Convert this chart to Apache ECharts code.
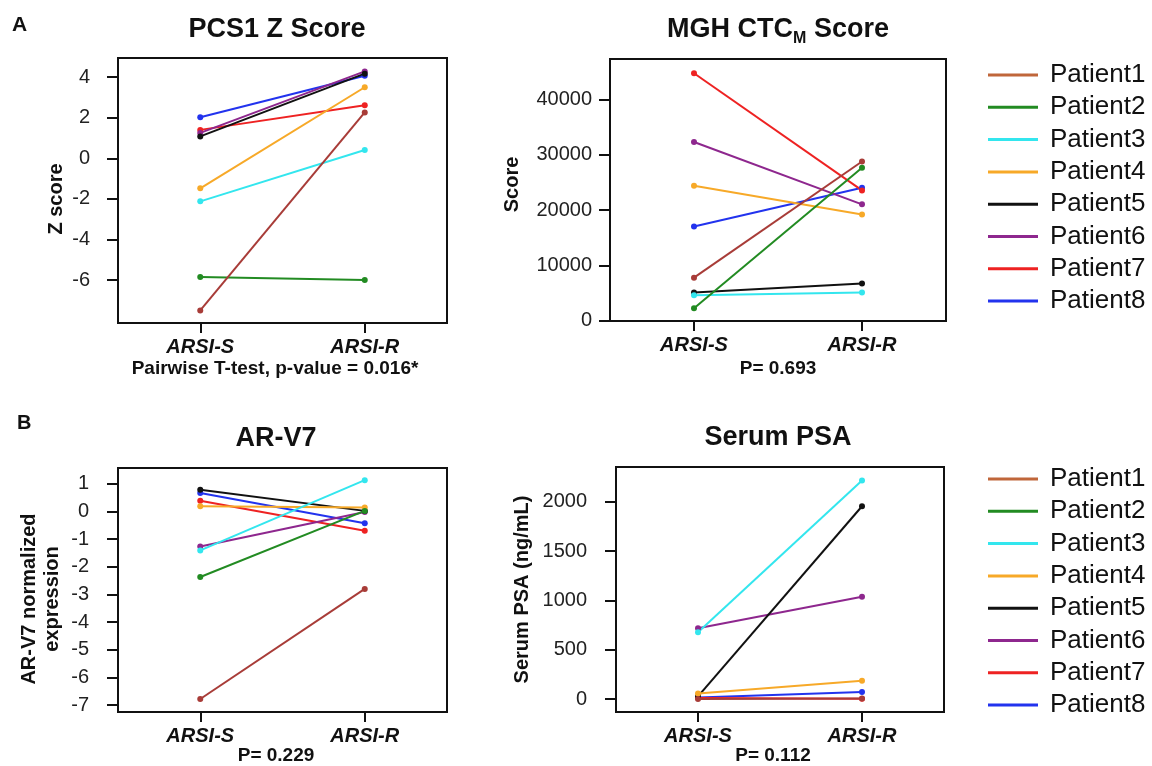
<!DOCTYPE html>
<html>
<head>
<meta charset="utf-8">
<script src="https://cdn.jsdelivr.net/npm/echarts@6/dist/echarts.min.js"></script>
<style>html,body{margin:0;padding:0;background:#fff}#c{width:1152px;height:766px}</style>
</head>
<body>
<div id="c"></div>
<script>
// ---- data ----
const categories = ['ARSI-S', 'ARSI-R'];
const patients = ['Patient1','Patient2','Patient3','Patient4','Patient5','Patient6','Patient7','Patient8'];
const patientColors = ['#a83c38','#228b22','#33e6ee','#f7a928','#111111','#8e278e','#ee2222','#2233ee'];

const pcs1S = [-7.49, -5.85, -2.12, -1.48, 1.08, 1.25, 1.40, 2.02];
const pcs1R = [ 2.26, -5.99,  0.41,  3.50, 4.17, 4.28, 2.61, 4.07];
const pcs1Ticks = [-6, -4, -2, 0, 2, 4];

const mghS = [ 7760,  2230, 4570, 24420, 5050, 32360, 44810, 17020];
const mghR = [28810, 27670, 5050, 19190, 6680, 21050, 23580, 24060];
const mghTicks = [0, 10000, 20000, 30000, 40000];

const arS = [-6.78, -2.37, -1.41, 0.19, 0.78, -1.27,  0.39,  0.67];
const arR = [-2.80,  0.02,  1.13, 0.14, 0.02, -0.02, -0.70, -0.43];
const arTicks = [-7, -6, -5, -4, -3, -2, -1, 0, 1];

const psaS = [2, null,  678,  57,   27,  718, 12, 17];
const psaR = [5, null, 2216, 185, 1956, 1039,  3, 71];
const psaTicks = [0, 500, 1000, 1500, 2000];

// ---- chart ----
const FONT = "'Liberation Sans', Arial, Helvetica, sans-serif";
const panels = [
  {S: pcs1S, R: pcs1R, ticks: pcs1Ticks, min: -8.11, max: 4.94, margin: 28,
   name: 'Z score', nameGap: 36, namePad: [0, 17, 0, 0],
   grid: {left: 118, top: 58, width: 329, height: 265}},
  {S: mghS, R: mghR, ticks: mghTicks, min: -100, max: 47400, margin: 18,
   name: 'Score', nameGap: 86, namePad: [0, 0, 0, 11],
   grid: {left: 610, top: 59, width: 336, height: 262}},
  {S: arS, R: arR, ticks: arTicks, min: -7.25, max: 1.57, margin: 29,
   name: 'AR-V7 normalized\nexpression', nameGap: 54, namePad: [0, 18, 0, 0],
   grid: {left: 118, top: 468, width: 329, height: 244}},
  {S: psaS, R: psaR, ticks: psaTicks, min: -131, max: 2354, margin: 29,
   name: 'Serum PSA (ng/mL)', nameGap: 82, namePad: [0, 0, 0, 0],
   grid: {left: 616, top: 467, width: 328, height: 245}}
];

const grid = [], xAxis = [], yAxis = [], series = [];
panels.forEach((p, gi) => {
  grid.push(Object.assign({show: true, borderColor: '#111', borderWidth: 2, backgroundColor: '#fff'}, p.grid));
  xAxis.push({
    type: 'category', gridIndex: gi, data: categories, boundaryGap: true, position: 'bottom',
    axisLine: {show: true, onZero: false, lineStyle: {color: '#111', width: 2}},
    axisTick: {show: true, alignWithLabel: true, length: 10, lineStyle: {color: '#111', width: 2}},
    axisLabel: {fontFamily: FONT, fontSize: 20, fontWeight: 'bold', fontStyle: 'italic', color: '#111', margin: 14},
    splitLine: {show: false}
  });
  yAxis.push({
    type: 'value', gridIndex: gi, min: p.min, max: p.max, position: 'left',
    name: p.name, nameLocation: 'middle', nameGap: p.nameGap,
    nameTextStyle: {fontFamily: FONT, fontSize: 20, fontWeight: 'bold', color: '#111', lineHeight: 23, padding: p.namePad},
    axisLine: {show: true, onZero: false, lineStyle: {color: '#111', width: 2}},
    axisTick: {show: true, length: 11, customValues: p.ticks, lineStyle: {color: '#111', width: 2}},
    axisLabel: {customValues: p.ticks, margin: p.margin, fontFamily: FONT, fontSize: 20, color: '#222',
                formatter: v => String(v)},
    splitLine: {show: false}
  });
  // draw Patient8 first so Patient1 ends up on top (as in the reference)
  for (let i = patients.length - 1; i >= 0; i--) {
    series.push({
      type: 'line', name: patients[i], xAxisIndex: gi, yAxisIndex: gi,
      data: [p.S[i], p.R[i]],
      symbol: 'circle', symbolSize: 6, showSymbol: true,
      lineStyle: {width: 2, color: patientColors[i]},
      itemStyle: {color: patientColors[i]},
      emphasis: {disabled: true}, animation: false
    });
  }
});

function legendAt(top) {
  return {
    orient: 'vertical', left: 988, top: top, padding: 0,
    icon: 'rect', itemWidth: 50, itemHeight: 3, itemGap: 6.3,
    data: patients.map((n, i) => ({name: n, itemStyle: {color: i === 0 ? '#c0663a' : patientColors[i]}})),
    textStyle: {fontFamily: FONT, fontSize: 26, lineHeight: 24, color: '#111', padding: [0, 0, 0, 7]},
    selectedMode: false
  };
}

function t(text, x, yc, size, align, extra) {
  return Object.assign({
    text: text, left: x, top: yc - size / 2, textAlign: align || 'center', padding: 0,
    textStyle: {fontFamily: FONT, fontSize: size, lineHeight: size, fontWeight: 'bold', color: '#111'}
  }, extra || {});
}

const option = {
  backgroundColor: '#fff',
  animation: false,
  title: [
    t('A', 12, 25, 21, 'left'),
    t('B', 17, 423, 20, 'left'),
    t('PCS1 Z Score', 277, 30, 27),
    {
      text: '{a|MGH CTC}{s|M}{a| Score}', left: 778, top: 16, textAlign: 'center', padding: 0,
      textStyle: {
        rich: {
          a: {fontFamily: FONT, fontSize: 27, lineHeight: 27, fontWeight: 'bold', color: '#111', verticalAlign: 'top'},
          s: {fontFamily: FONT, fontSize: 16, lineHeight: 16, fontWeight: 'bold', color: '#111', verticalAlign: 'top', padding: [15, 0, 0, 0]}
        }
      }
    },
    t('AR-V7', 276, 439, 27),
    t('Serum PSA', 778, 438, 27),
    t('Pairwise T-test, p-value = 0.016*', 275, 369, 19),
    t('P= 0.693', 778, 369, 19),
    t('P= 0.229', 276, 756, 19),
    t('P= 0.112', 773, 756, 19)
  ],
  legend: [legendAt(62), legendAt(466)],
  grid: grid, xAxis: xAxis, yAxis: yAxis, series: series
};

const chart = echarts.init(document.getElementById('c'), null, {renderer: 'canvas'});
chart.setOption(option);
</script>
</body>
</html>
